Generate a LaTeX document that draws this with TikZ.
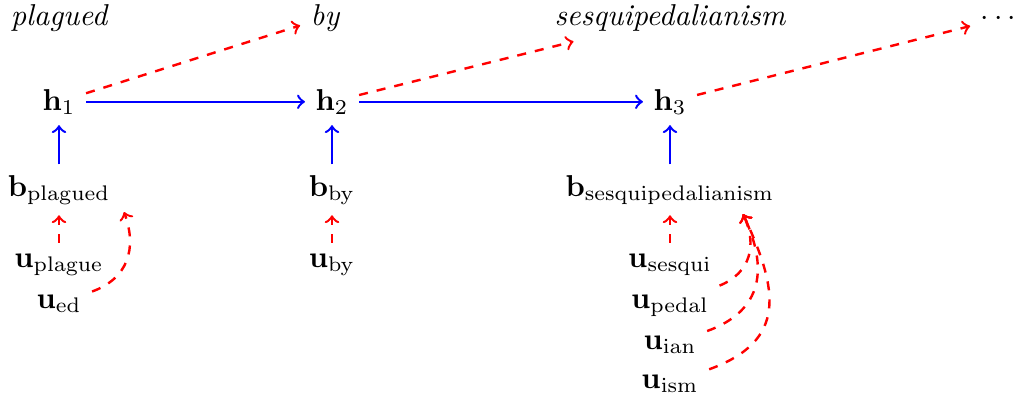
\documentclass[tikz,border=0pt]{standalone}
\usepackage{amsmath}
\begin{document}
\begin{tikzpicture}[x=0.011641cm,y=-0.011641cm,
  word/.style={font=\itshape, anchor=base},
  lbl/.style={anchor=base},
  hid/.style={->,blue,thick},
  pred/.style={->,red,thick,dashed}]
\useasboundingbox (0,0) rectangle (1023,402);
% words
\node[word] (w1) at (59,25) {plagued};
\node[word] (w2) at (325,25) {by};
\node[word] (w3) at (670,25) {sesquipedalianism};
\node[lbl] (w4) at (1001,25) {$\cdots$};
% hidden states
\node[lbl] (h1) at (59,110) {$\mathbf{h}_1$};
\node[lbl] (h2) at (332,110) {$\mathbf{h}_2$};
\node[lbl] (h3) at (670,110) {$\mathbf{h}_3$};
% word embeddings
\node[lbl] (b1) at (59,196) {$\mathbf{b}_{\mathrm{plagued}}$};
\node[lbl] (b2) at (332,196) {$\mathbf{b}_{\mathrm{by}}$};
\node[lbl] (b3) at (670,196) {$\mathbf{b}_{\mathrm{sesquipedalianism}}$};
% morpheme embeddings
\node[lbl] (u11) at (59,267) {$\mathbf{u}_{\mathrm{plague}}$};
\node[lbl] (u12) at (59,308) {$\mathbf{u}_{\mathrm{ed}}$};
\node[lbl] (u21) at (332,267) {$\mathbf{u}_{\mathrm{by}}$};
\node[lbl] (u31) at (670,267) {$\mathbf{u}_{\mathrm{sesqui}}$};
\node[lbl] (u32) at (670,308) {$\mathbf{u}_{\mathrm{pedal}}$};
\node[lbl] (u33) at (670,349) {$\mathbf{u}_{\mathrm{ian}}$};
\node[lbl] (u34) at (670,388) {$\mathbf{u}_{\mathrm{ism}}$};
\coordinate (t1) at (124,212);
\coordinate (t3) at (743,214);
% recurrent connections
\draw[hid] (h1) -- (h2);
\draw[hid] (h2) -- (h3);
\draw[hid] (b1) -- (h1);
\draw[hid] (b2) -- (h2);
\draw[hid] (b3) -- (h3);
% predictions
\draw[pred] (h1) -- (w2);
\draw[pred] (h2) -- (w3);
\draw[pred] (h3) -- (w4);
% composition
\draw[pred] (u11) -- (b1);
\draw[pred] (u21) -- (b2);
\draw[pred] (u31) -- (b3);
\draw[pred] (u12) to[out=20,in=-70,looseness=1.15] (t1);
\draw[pred] (u32) to[out=22,in=-65,looseness=1.15] (t3);
\draw[pred] (u33) to[out=20,in=-65,looseness=1.25] (t3);
\draw[pred] (u34) to[out=20,in=-65,looseness=1.35] (t3);
\end{tikzpicture}
\end{document}
